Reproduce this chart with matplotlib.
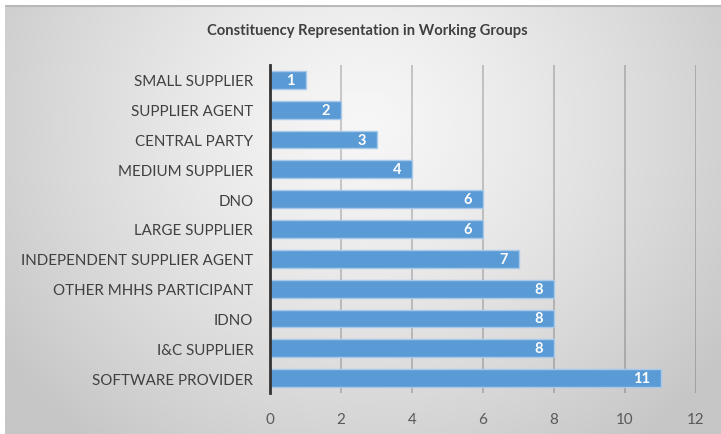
import numpy as np
import matplotlib
matplotlib.use("Agg")
import matplotlib.pyplot as plt

categories = ["SMALL SUPPLIER", "SUPPLIER AGENT", "CENTRAL PARTY", "MEDIUM SUPPLIER",
              "DNO", "LARGE SUPPLIER", "INDEPENDENT SUPPLIER AGENT",
              "OTHER MHHS PARTICIPANT", "IDNO", "I&C SUPPLIER", "SOFTWARE PROVIDER"]
values = [1, 2, 3, 4, 6, 6, 7, 8, 8, 8, 11]
xticks = [0, 2, 4, 6, 8, 10, 12]
title = "Constituency Representation in Working Groups"

W, H = 721, 435
fig = plt.figure(figsize=(W / 100, H / 100), dpi=100)
fig.patch.set_facecolor("white")

# background with radial gradient
bx0, by1 = 5 / W, 1 - 6 / H
bg = fig.add_axes([bx0, 0, 1 - bx0, by1])
bg.set_axis_off()
xx, yy = np.meshgrid(np.linspace(0, 1, 400), np.linspace(0, 1, 300))
r = np.sqrt(((xx - 0.5) / 0.62) ** 2 + ((yy - 0.72) / 0.95) ** 2)
v = 0.965 - 0.19 * np.clip(r, 0, 1) ** 1.3
bg.imshow(v, cmap="gray", vmin=0, vmax=1, origin="lower", extent=[0, 1, 0, 1],
          aspect="auto", interpolation="bicubic")
bg.set_xlim(0, 1)
bg.set_ylim(0, 1)
bg.plot([0, 1], [0.997, 0.997], color="#b8b8b8", lw=1.5, transform=bg.transAxes)

font = "Lato"
ax = fig.add_axes([270 / W, 1 - 394 / H, (696 - 270) / W, (394 - 66) / H])
ax.patch.set_alpha(0)
y = np.arange(len(categories))
ax.barh(y, values, height=0.6, color="#5b9bd5", edgecolor="#a9c9ea", linewidth=1.0, zorder=3)
for yi, val in zip(y, values):
    ax.text(val - 0.3, yi, str(val), ha="right", va="center", color="white",
            fontsize=10.5, fontweight="bold", family=font, zorder=4)
ax.set_yticks(y)
ax.set_yticklabels(categories, family=font, fontsize=10.9, color="#404040")
ax.set_ylim(len(categories) - 0.5, -0.5)
ax.set_xlim(0, 12)
ax.set_xticks(xticks)
ax.set_xticklabels([str(t) for t in xticks], family=font, fontsize=10.9, color="#595959")
ax.tick_params(axis="x", length=0, pad=14)
ax.tick_params(axis="y", length=0, pad=12)
ax.xaxis.grid(True, color="black", alpha=0.22, lw=1.2, zorder=0)
for s in ["top", "right", "bottom"]:
    ax.spines[s].set_visible(False)
ax.spines["left"].set_color("#333333")
ax.spines["left"].set_linewidth(2)
ax.spines["left"].set_zorder(5)

fig.text(367 / W, 1 - 31 / H, title, ha="center", va="center", fontsize=10.6,
         fontweight="bold", color="#404040", family=font)

fig.savefig("out.png", dpi=100)
